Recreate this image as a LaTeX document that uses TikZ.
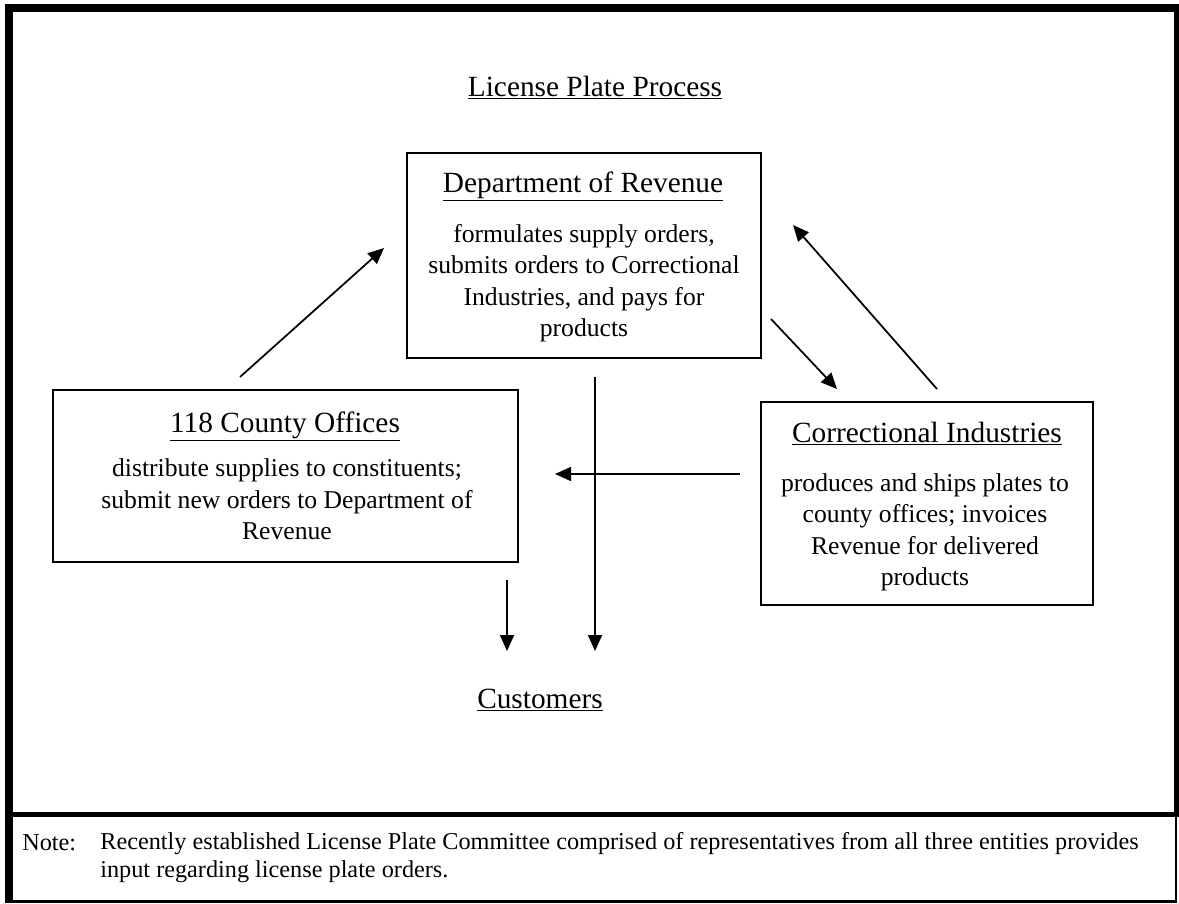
\documentclass[tikz,border=0pt]{standalone}
\usepackage{fontspec}
\setmainfont{Liberation Serif}
\usetikzlibrary{arrows.meta,positioning}

\begin{document}
\begin{tikzpicture}[x=0.02cm, y=-0.02cm,
  every node/.style={inner sep=0pt, align=center},
  box/.style={draw, line width=1.4pt},
  head/.style={font=\fontsize{16.7}{20}\selectfont, anchor=base},
  body/.style={font=\fontsize{14.6}{17.9}\selectfont},
  note/.style={font=\fontsize{13.8}{15.4}\selectfont, align=left},
  arr/.style={-{Triangle[length=0.32cm, width=0.28cm]}, line width=1pt}]
\useasboundingbox (0,0) rectangle (1179,903);

% frame and note panel
\draw[line width=4.55pt] (5,8) -- (1179,8);
\draw[line width=4.55pt] (9,4) -- (9,903);
\draw[line width=2.85pt] (1176.5,4) -- (1176.5,814);
\draw[line width=2.85pt] (5,814) -- (1179,814);
\draw[line width=1.2pt] (1176,814) -- (1176,903);
\draw[line width=1.2pt] (5,901.5) -- (1177,901.5);

\node[head] (title) at (595,96) {\underline{License Plate Process}};

% the three offices
\node[box, minimum width=7.08cm, minimum height=4.1cm] (dor) at (584,255.5) {};
\node[head] (dorhead) at (583,192) {\underline{Department of Revenue}};
\node[body] (dortext) at (584,283) {formulates supply orders,\\submits orders to Correctional\\Industries, and pays for\\products};

\node[box, minimum width=9.3cm, minimum height=3.44cm] (county) at (285.5,476) {};
\node[head] (countyhead) at (285,432) {\underline{118 County Offices}};
\node[body] (countytext) at (287,499.5) {distribute supplies to constituents;\\submit new orders to Department of\\Revenue};

\node[box, minimum width=6.64cm, minimum height=4.06cm] (ci) at (927,503.5) {};
\node[head] (cihead) at (927,442) {\underline{Correctional Industries}};
\node[body] (citext) at (925,532.5) {produces and ships plates to\\county offices; invoices\\Revenue for delivered\\products};

\node[head] (cust) at (540,708) {\underline{Customers}};

% arrow ends
\coordinate (cty-up) at (240,377);
\coordinate (dor-in) at (384,248);
\coordinate (dor-out) at (771,319);
\coordinate (ci-in) at (837,389);
\coordinate (ci-up) at (937,389);
\coordinate (dor-back) at (793,225);
\coordinate (ci-left) at (740,474);
\coordinate (cty-in) at (555,474);
\coordinate (dor-down) at (595,377);
\coordinate (cust-r) at (595,651);
\coordinate (cty-down) at (507,580);
\coordinate (cust-l) at (507,651);

\draw[arr] (cty-up) -- (dor-in);
\draw[arr] (dor-out) -- (ci-in);
\draw[arr] (ci-up) -- (dor-back);
\draw[arr] (ci-left) -- (cty-in);
\draw[arr] (dor-down) -- (cust-r);
\draw[arr] (cty-down) -- (cust-l);

% note, second line on the baseline
\node[note, anchor=base west] (notelbl) at (22,850) {Note:};
\node[note, anchor=base west] (notetext) at (100,877) {Recently established License Plate Committee comprised of representatives from all three entities provides\\input regarding license plate orders.};
\end{tikzpicture}
\end{document}
